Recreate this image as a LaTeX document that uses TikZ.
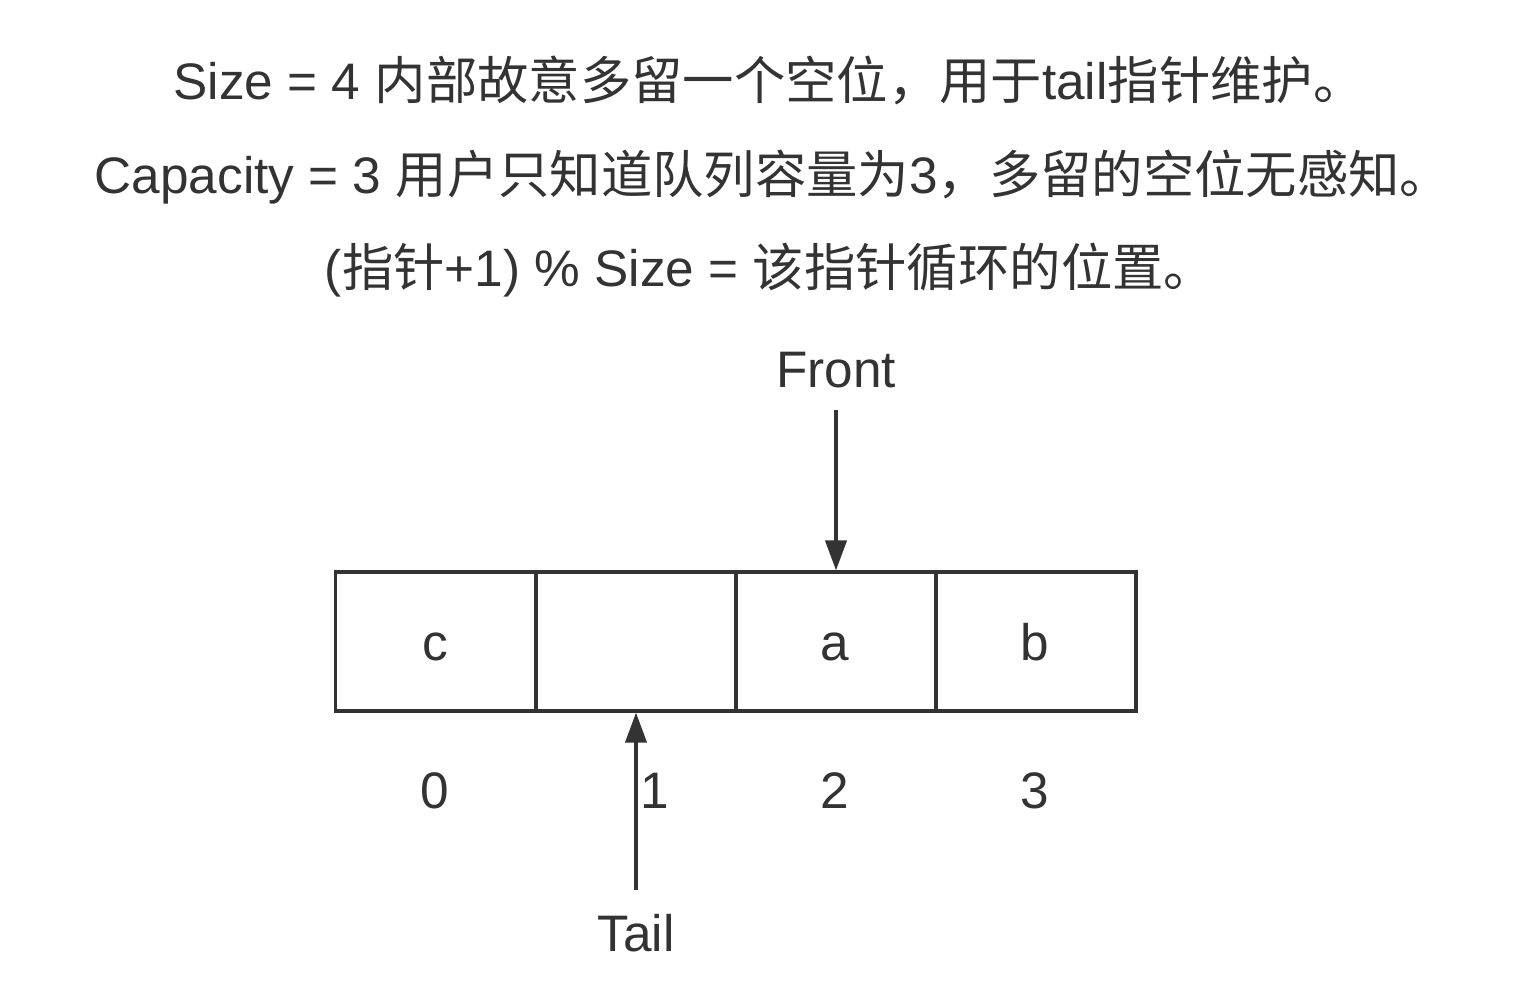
\documentclass[tikz,border=0pt]{standalone}
\usepackage{fontspec}
\setmainfont{Liberation Sans}
\newfontfamily\cjk{Noto Sans CJK SC}
\usetikzlibrary{arrows.meta}
\definecolor{ink}{HTML}{333333}
\tikzset{
  cell/.style={draw=ink, line width=0.9pt, minimum width=2cm, minimum height=1.39cm, inner sep=0pt},
  lbl/.style={font=\fontsize{14.6}{17}\selectfont, text=ink, inner sep=0pt, anchor=base},
  ptr/.style={draw=ink, line width=1pt, -{Triangle[length=8.5pt,width=6pt]}}
}
\begin{document}
\begin{tikzpicture}[x=0.01cm,y=-0.01cm]
\useasboundingbox (0,0) rectangle (1518,994);
\node[lbl] (t1) at (769,100) {Size = 4 {\cjk 内部故意多留一个空位，用于}tail{\cjk 指针维护。}};
\node[lbl] (t2) at (773,193) {Capacity = 3 {\cjk 用户只知道队列容量为}3{\cjk ，多留的空位无感知。}};
\node[lbl] (t3) at (770,287) {({\cjk 指针}+1) \% Size = {\cjk 该指针循环的位置。}};
\node[cell] (c0) at (435.5,641.5) {};
\node[cell] (c1) at (636,641.5) {};
\node[cell] (c2) at (836,641.5) {};
\node[cell] (c3) at (1036,641.5) {};
\node[lbl] (v0) at (435,660) {c};
\node[lbl] (v2) at (835,660) {a};
\node[lbl] (v3) at (1035,660) {b};
\node[lbl] (i0) at (435,808) {0};
\node[lbl] (i1) at (655,808) {1};
\node[lbl] (i2) at (835,808) {2};
\node[lbl] (i3) at (1035,808) {3};
\node[lbl] (front) at (836,387) {Front};
\node[lbl] (tail) at (636,951) {Tail};
\coordinate (fs) at (836,410);
\coordinate (ts) at (636,890);
\draw[ptr] (fs) -- (fs |- c2.north);
\draw[ptr] (ts) -- (ts |- c1.south);
\end{tikzpicture}
\end{document}
